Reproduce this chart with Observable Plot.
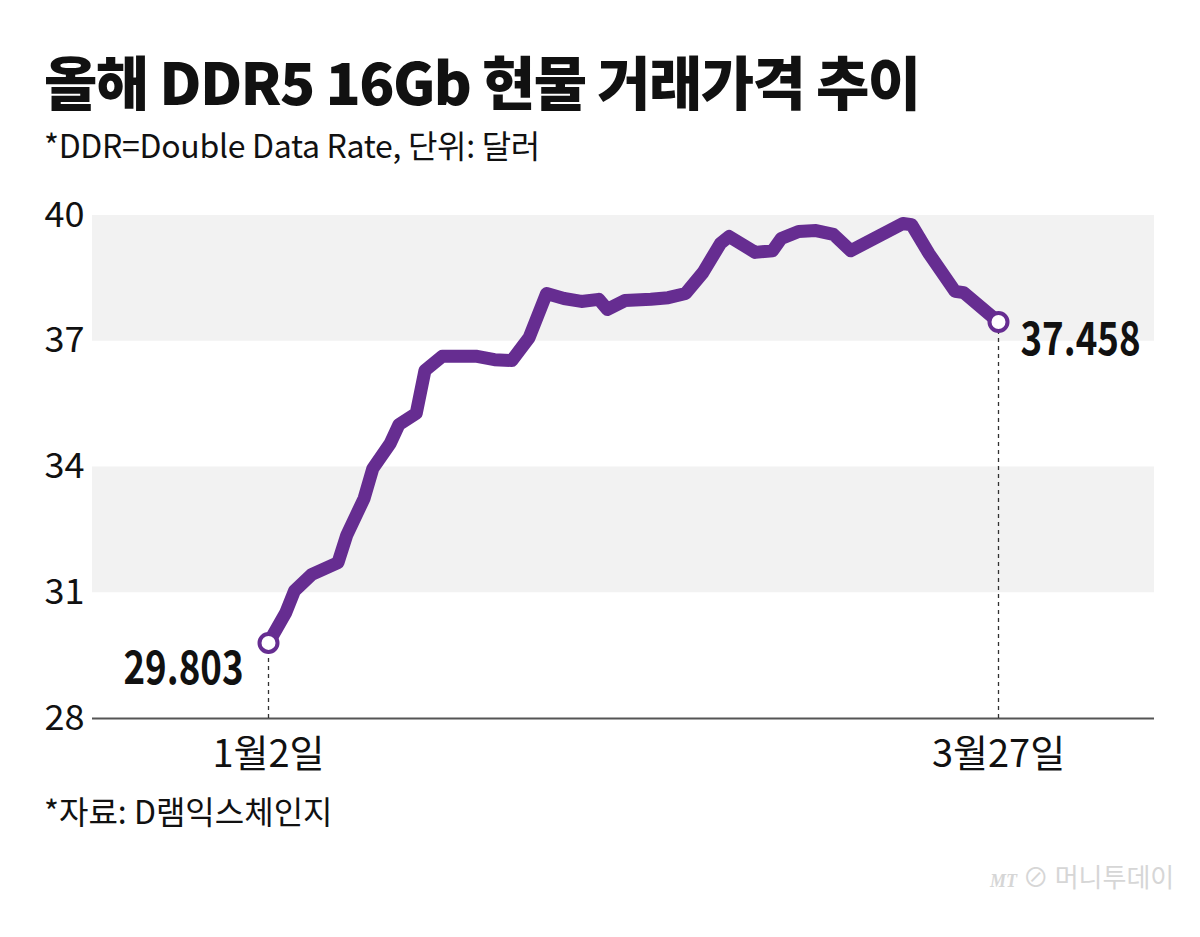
<!DOCTYPE html>
<html><head><meta charset="utf-8">
<script src="https://cdn.jsdelivr.net/npm/d3@7"></script>
<script src="https://cdn.jsdelivr.net/npm/@observablehq/plot@0.6"></script>
<style>
html,body{margin:0;padding:0;background:#fff;}
#wrap{width:1200px;height:937px;position:relative;overflow:hidden;font-family:"Noto Sans CJK KR",sans-serif;color:#111;}
#title{position:absolute;left:44px;top:40px;font-weight:900;font-size:58px;line-height:80px;letter-spacing:-1.6px;white-space:nowrap;}
#sub{position:absolute;left:44px;top:122px;font-size:32px;line-height:44px;letter-spacing:-0.3px;white-space:nowrap;}
#chart{position:absolute;left:0;top:180px;}
#cap{position:absolute;left:44px;top:788px;font-size:32px;line-height:44px;white-space:nowrap;}
#logo{position:absolute;left:990px;top:858px;font-size:26px;line-height:36px;color:#d6d6d6;white-space:nowrap;}
#logo i{font-size:18px;font-family:"Liberation Serif",serif;font-weight:bold;}
</style></head>
<body><div id="wrap">
<div id="title">올해 DDR5 16Gb 현물 거래가격 추이</div>
<div id="sub">*DDR=Double Data Rate, 단위: 달러</div>
<div id="chart"></div>
<div id="cap">*자료: D램익스체인지</div>
<div id="logo"><i>MT</i> ⊘ 머니투데이</div>
</div>
<script>
const dates = ["2026-01-02","2026-01-04","2026-01-05","2026-01-07","2026-01-10","2026-01-11","2026-01-13","2026-01-14","2026-01-16","2026-01-17","2026-01-19","2026-01-20","2026-01-22","2026-01-26","2026-01-28","2026-01-30","2026-02-01","2026-02-03","2026-02-05","2026-02-07","2026-02-09","2026-02-10","2026-02-12","2026-02-15","2026-02-17","2026-02-19","2026-02-21","2026-02-23","2026-02-24","2026-02-27","2026-03-01","2026-03-02","2026-03-04","2026-03-06","2026-03-08","2026-03-10","2026-03-16","2026-03-17","2026-03-19","2026-03-22","2026-03-23","2026-03-27"];
const prices = [29.803,30.53,31.05,31.44,31.72,32.37,33.25,33.96,34.56,35.01,35.28,36.30,36.64,36.64,36.56,36.54,37.09,38.14,38.02,37.95,38.00,37.76,37.97,38.00,38.04,38.14,38.64,39.33,39.50,39.12,39.16,39.45,39.62,39.64,39.55,39.16,39.81,39.78,39.09,38.19,38.16,37.458];
const yTicks = [28,31,34,37,40];
const xTickDates = ["2026-01-02","2026-03-27"];

const data = dates.map((d,i)=>({date:new Date(d+"T00:00:00Z"), price:prices[i]}));
const ends = [data[0], data[data.length-1]];
const bands = yTicks.slice(0,-1).map((t,i)=>({y1:t,y2:yTicks[i+1],shade:i%2===1})).filter(b=>b.shade);
const fmtDate = d => `${d.getUTCMonth()+1}월${d.getUTCDate()}일`;
const purple = "#662d91";

const plot = Plot.plot({
  width:1200, height:610,
  marginTop:35, marginBottom:72, marginLeft:92, marginRight:46,
  style:{fontFamily:'"Noto Sans CJK KR",sans-serif', color:"#111", background:"transparent"},
  x:{type:"utc", domain:[new Date(xTickDates[0]+"T00:00:00Z"), new Date(xTickDates[1]+"T00:00:00Z")], range:[268,998]},
  y:{domain:[28,40]},
  marks:[
    Plot.rect(bands,{y1:"y1",y2:"y2",fill:"#f2f2f2"}),
    Plot.ruleY([28],{stroke:"#555",strokeWidth:2}),
    Plot.ruleX(ends,{x:"date",y1:28,y2:"price",stroke:"#333",strokeWidth:1.3,strokeDasharray:"4,4"}),
    Plot.line(data,{x:"date",y:"price",stroke:purple,strokeWidth:13,strokeLinejoin:"round",strokeLinecap:"round"}),
    Plot.dot(ends,{x:"date",y:"price",r:9,fill:"#fff",stroke:purple,strokeWidth:4}),
    Plot.text([ends[0]],{x:"date",y:"price",text:d=>d.price.toFixed(3),textAnchor:"end",dx:-25,dy:26,fontSize:46,fontWeight:"bold",fill:"#111",className:"vlab"}),
    Plot.text([ends[1]],{x:"date",y:"price",text:d=>d.price.toFixed(3),textAnchor:"start",dx:22,dy:18,fontSize:46,fontWeight:"bold",fill:"#111",className:"vlab"}),
    Plot.axisY({ticks:yTicks,tickSize:0,tickPadding:8,fontSize:35,tickFormat:d=>String(d),label:null}),
    Plot.axisX({ticks:xTickDates.map(d=>new Date(d+"T00:00:00Z")),tickSize:0,tickPadding:22,fontSize:38,tickFormat:fmtDate,label:null})
  ]
});
plot.querySelectorAll(".vlab text").forEach(t=>{t.setAttribute("textLength","120");t.setAttribute("lengthAdjust","spacingAndGlyphs");});
plot.querySelectorAll('g[aria-label="y-axis tick label"] text').forEach(t=>{t.setAttribute("textLength","40");t.setAttribute("lengthAdjust","spacingAndGlyphs");});
document.getElementById("chart").appendChild(plot);
</script>
</body></html>
